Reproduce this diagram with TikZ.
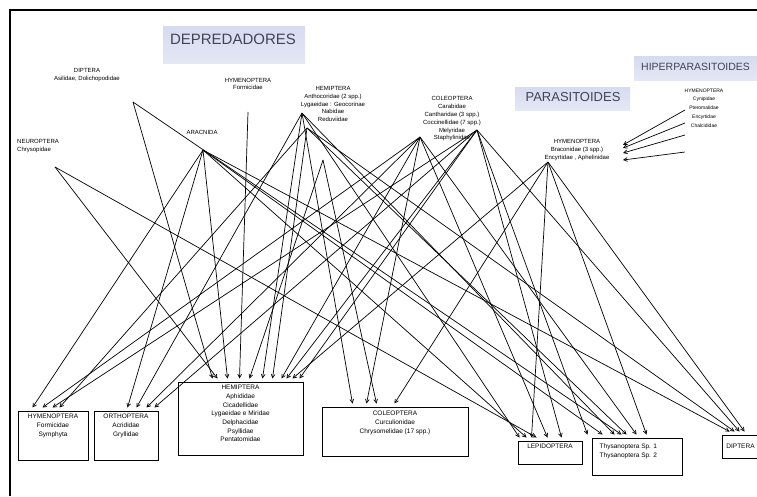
\documentclass[tikz,border=0pt]{standalone}
\usepackage{fontspec}
\setmainfont{Liberation Sans}
\usetikzlibrary{arrows.meta}
\usetikzlibrary{positioning}
\definecolor{titletop}{RGB}{214,219,240}
\definecolor{titlemid}{RGB}{186,195,228}
\definecolor{titlelow}{RGB}{228,231,244}
\definecolor{titletext}{RGB}{66,68,84}

\begin{document}
\begin{tikzpicture}[x=1pt,y=-1pt]

\tikzset{>={Straight Barb[length=3.6pt,width=3.8pt]}}
\tikzstyle{taxon} = [inner sep=0pt, align=center,
	font=\fontsize{6}{7.8}\selectfont];
\tikzstyle{block} = [draw, rectangle, line width=1pt, inner sep=0pt];
\tikzstyle{boxtext} = [inner sep=0pt, align=center,
	font=\fontsize{6.5}{8.7}\selectfont];
\tikzstyle{title} = [inner sep=0pt, text=titletext];
\tikzstyle{glow} = [top color=titletop, middle color=titlemid, bottom color=titlelow];
\tikzstyle{link} = [->, line width=.7pt];

\useasboundingbox (0,0) rectangle (757,496);
\draw[line width=1.6pt] (10,496) -- (10,10) -- (757,10);

% group titles
\shade[glow] (163,26) rectangle (305,63);
\shade[glow] (515,87) rectangle (630,110);
\shade[glow] (634,56) rectangle (757,80);
\node[title, font=\fontsize{15}{15}\selectfont] (depT) at (233,39) {DEPREDADORES};
\node[title, font=\fontsize{13}{13}\selectfont] (parT) at (573,97) {PARASITOIDES};
\node[title, font=\fontsize{10.5}{10.5}\selectfont, anchor=west] (hypT) at (641,67) {HIPERPARASITOIDES};

% enemies
\node[taxon] (dipP) at (87,75) {DIPTERA\\Asilidae, Dolichopodidae};
\node[taxon, align=left, anchor=west] (neuP) at (17,146) {NEUROPTERA\\Chrysopidae};
\node[taxon] (araP) at (202,132) {ARACNIDA};
\node[taxon] (hymP) at (248,84) {HYMENOPTERA\\Formicidae};
\node[taxon] (hemP) at (333,104) {HEMIPTERA\\Anthocoridae (2 spp.)\\Lygaeidae : Geocorinae\\Nabidae\\Reduviidae};
\node[taxon] (colP) at (452,119) {COLEOPTERA\\Carabidae\\Cantharidae (3 spp.)\\Coccinellidae (7 spp.)\\Melyridae\\Staphylinidae};
\node[taxon] (parP) at (577,150) {HYMENOPTERA\\Braconidae (3 spp.)\\Encyrtidae , Aphelinidae};
\node[taxon, font=\fontsize{5}{8.8}\selectfont] (hypP) at (704,108) {HYMENOPTERA\\Cynipidae\\Pteromalidae\\Encyrtidae\\Chalcididae};

\coordinate (sDip) at (133,102);
\coordinate (sNeu) at (55,167);
\coordinate (sAra) at (203,150);
\coordinate (sHym) at (248,112);
\coordinate (sHemA) at (302,113);
\coordinate (sHemB) at (307,128);
\coordinate (sHemC) at (323,160);
\coordinate (sColA) at (420,137);
\coordinate (sColB) at (477,130);
\coordinate (sPar) at (548,162);

% prey boxes
\node[block, minimum width=70pt, minimum height=49pt] (b1) at (53,435.5) {};
\node[block, minimum width=64pt, minimum height=49pt] (b2) at (126,435.5) {};
\node[block, minimum width=125pt, minimum height=73pt] (b3) at (240.5,418.5) {};
\node[block, minimum width=146pt, minimum height=49pt] (b4) at (395,431.5) {};
\node[block, minimum width=64pt, minimum height=23pt] (b5) at (550,452.5) {};
\node[block, minimum width=90pt, minimum height=37pt] (b6) at (637,456.5) {};
\node[block, minimum width=37pt, minimum height=23pt] (b7) at (740.5,446.5) {};

\node[boxtext, below=3.5pt of b1.north] (b1t) {HYMENOPTERA\\Formicidae\\Symphyta};
\node[boxtext, below=3.5pt of b2.north] (b2t) {ORTHOPTERA\\Acrididae\\Gryllidae};
\node[boxtext, below=3.5pt of b3.north] (b3t) {HEMIPTERA\\Aphididae\\Cicadellidae\\Lygaeidae  e  Miridae\\Delphacidae\\Psyllidae\\Pentatomidae};
\node[boxtext, below=4.5pt of b4.north] (b4t) {COLEOPTERA\\Curculionidae\\Chrysomelidae (17 spp.)};
\node[boxtext, below=3.5pt of b5.north] (b5t) {LEPIDOPTERA};
\node[boxtext, align=left, anchor=north west] (b6t) at ([xshift=8pt, yshift=-6pt]b6.north west) {Thysanoptera  Sp. 1\\Thysanoptera  Sp. 2};
\node[boxtext] (b7t) at (b7) {DIPTERA};

% who eats whom
\foreach \s/\t/\d in {sDip/b3/35, sDip/b6/30, sNeu/b3/40, sNeu/b5/19,
	sAra/b1/15, sAra/b2/34, sAra/b3/50, sAra/b5/9, sAra/b6/11, sAra/b7/8,
	sHym/b3/62, sHemA/b2/43, sHemA/b3/85, sHemA/b4/31, sHemA/b5/2, sHemA/b6/23,
	sHemB/b1/42, sHemB/b3/95, sHemB/b6/35, sHemB/b7/13, sHemC/b3/72, sHemC/b4/55,
	sColA/b1/25, sColA/b2/53, sColA/b3/104, sColA/b4/45, sColA/b5/30, sColA/b6/45,
	sColB/b1/35, sColB/b2/61, sColB/b3/109, sColB/b3/122, sColB/b5/44, sColB/b6/-4,
	sColB/b7/18, sPar/b3/115, sPar/b4/73, sPar/b5/14, sPar/b6/55, sPar/b7/23}
	\draw[link] (\s) -- ([xshift=\d pt, yshift=3pt]\t.north west);

% hiperparasitoids on parasitoids
\foreach \i/\ya/\yb in {1/110/145, 2/123/148, 3/135/153, 4/152/160} {
	\coordinate (h\i) at (685,\ya);
	\coordinate (p\i) at (623,\yb);
	\draw[link] (h\i) -- (p\i);
}

\end{tikzpicture}
\end{document}
